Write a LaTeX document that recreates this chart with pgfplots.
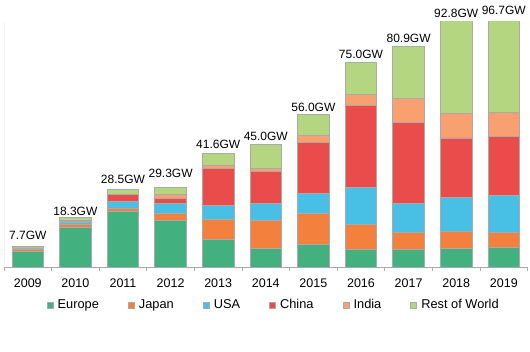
\documentclass[border=0pt]{standalone}
\usepackage{pgfplots}
\pgfplotsset{compat=1.18}
\usepackage{pgfplotstable}
\usepackage{fontspec}
\setmainfont{Liberation Sans}
\definecolor{ceur}{RGB}{67,176,127}
\definecolor{cjap}{RGB}{244,128,62}
\definecolor{cusa}{RGB}{72,192,230}
\definecolor{cchi}{RGB}{234,76,76}
\definecolor{cind}{RGB}{248,160,112}
\definecolor{crow}{RGB}{180,214,128}
\definecolor{cline}{RGB}{170,170,170}
\pgfplotstableread{
x eur jap usa chi ind row
0 5.8 0.5 0.5 0.2 0.0 0.7
1 14.5 1.0 0.9 0.5 0.1 1.3
2 20.6 1.1 2.3 2.5 0.2 1.8
3 17.2 2.4 3.6 2.1 1.2 2.8
4 10.2 7.4 4.9 13.8 1.2 4.1
5 6.9 10.3 6.3 11.7 1.1 8.7
6 8.4 11.3 7.2 19.0 2.4 7.7
7 6.4 9.2 13.7 30.1 4.1 11.5
8 6.4 6.3 10.7 29.7 8.9 18.9
9 6.8 6.3 12.5 21.8 9.2 36.2
10 7.2 5.5 13.7 21.6 8.9 39.8
}\data
\pgfplotstableread{
x y lab
0 11.8 7.7GW
1 20.4 18.3GW
2 32.3 28.5GW
3 34.5 29.3GW
4 45.2 41.6GW
5 48.1 45.0GW
6 58.8 56.0GW
7 78.1 75.0GW
8 84.1 80.9GW
9 93.2 92.8GW
10 94.2 96.7GW
}\labels
\begin{document}
\begin{tikzpicture}[font=\fontsize{12.5}{15}\selectfont]
\useasboundingbox (-4pt,-85pt) rectangle (526pt,267pt);
\begin{axis}[
  at={(0,0)}, anchor=south west,
  width=523.6pt, height=245pt, scale only axis,
  ybar stacked, bar width=31.5pt,
  xmin=-0.5, xmax=10.5, ymin=0, ymax=90,
  axis x line*=bottom, axis y line*=left,
  axis line style={-},
  x axis line style={draw=cline, line width=0.8pt},
  y axis line style={draw=black!5, line width=0.6pt},
  ytick=\empty,
  xtick={0,...,10},
  xticklabels={2009,2010,2011,2012,2013,2014,2015,2016,2017,2018,2019},
  major x tick style={draw=none},
  minor xtick={-0.5,0.5,...,10.5},
  minor x tick style={draw=cline, line width=0.8pt},
  minor tick length=4pt,
  xtick align=outside,
  xticklabel style={yshift=-4pt},
  legend style={at={(0.515,0)}, anchor=center, yshift=-38pt, draw=none, fill=none,
    legend columns=-1, font=\fontsize{12.8}{15}\selectfont,
    /tikz/every even column/.append style={column sep=27pt},
    /tikz/every odd column/.append style={column sep=2.5pt}},
  legend image code/.code={\draw[#1, draw=cline, line width=0.5pt] (0pt,-3pt) rectangle (6pt,3pt);},
]
\addplot[fill=ceur, draw=cline, line width=0.8pt] table[x=x,y=eur]{\data};
\addplot[fill=cjap, draw=cline, line width=0.8pt] table[x=x,y=jap]{\data};
\addplot[fill=cusa, draw=cline, line width=0.8pt] table[x=x,y=usa]{\data};
\addplot[fill=cchi, draw=cline, line width=0.8pt] table[x=x,y=chi]{\data};
\addplot[fill=cind, draw=cline, line width=0.8pt] table[x=x,y=ind]{\data};
\addplot[fill=crow, draw=cline, line width=0.8pt] table[x=x,y=row]{\data};
\legend{Europe,Japan,USA,China,India,Rest of World}
\end{axis}
\begin{axis}[
  at={(0,0)}, anchor=south west,
  width=523.6pt, height=245pt, scale only axis,
  xmin=-0.5, xmax=10.5, ymin=0, ymax=90,
  hide axis, clip=false,
]
\addplot[only marks, mark=none, nodes near coords, point meta=explicit symbolic,
  every node near coord/.append style={anchor=center, font=\fontsize{12}{14}\selectfont}]
  table[x=x,y=y,meta=lab]{\labels};
\end{axis}
\end{tikzpicture}
\end{document}
